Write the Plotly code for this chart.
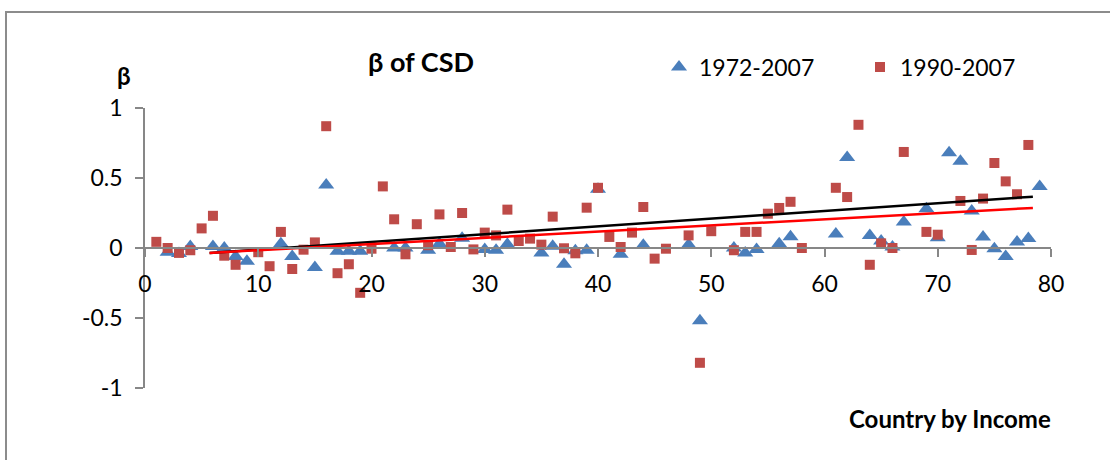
import plotly.graph_objects as go

# 1972-2007 series (triangles)
x_7207 = [2, 3, 4, 6, 7, 8, 9, 12, 13, 15, 16, 17, 18, 19, 22, 23, 25, 26, 28, 30,
          31, 32, 35, 36, 37, 38, 39, 40, 42, 44, 48, 49, 52, 53, 54, 56, 57, 61, 62,
          64, 65, 66, 67, 69, 70, 71, 72, 73, 74, 75, 76, 77, 78, 79]
y_7207 = [-0.03, -0.04, 0.01, 0.01, 0.0, -0.06, -0.095, 0.03, -0.06, -0.14, 0.45, -0.024,
          -0.024, -0.024, 0.0, 0.0, -0.016, 0.03, 0.07, -0.01, -0.016, 0.026, -0.035,
          0.012, -0.116, -0.02, -0.016, 0.42, -0.045, 0.02, 0.024, -0.52, 0.0, -0.035,
          -0.01, 0.03, 0.08, 0.1, 0.646, 0.09, 0.05, 0.007, 0.186, 0.28, 0.074, 0.68,
          0.62, 0.264, 0.079, -0.005, -0.06, 0.043, 0.067, 0.44]

# 1990-2007 series (squares)
x_9007 = [1, 2, 3, 4, 5, 6, 7, 8, 10, 11, 12, 13, 14, 15, 16, 17, 18, 19, 20, 21,
          22, 23, 24, 25, 26, 27, 28, 29, 30, 31, 32, 33, 34, 35, 36, 37, 38, 39, 40,
          41, 42, 43, 44, 45, 46, 48, 49, 50, 52, 53, 54, 55, 56, 57, 58, 61, 62, 63,
          64, 65, 66, 67, 69, 70, 72, 73, 74, 75, 76, 77, 78]
y_9007 = [0.044, 0.0, -0.035, -0.016, 0.14, 0.23, -0.055, -0.12, -0.03, -0.13, 0.115,
          -0.15, -0.012, 0.04, 0.87, -0.18, -0.116, -0.32, -0.005, 0.44, 0.205, -0.045,
          0.17, 0.02, 0.24, 0.007, 0.25, -0.01, 0.11, 0.09, 0.274, 0.05, 0.067, 0.024,
          0.224, -0.002, -0.038, 0.288, 0.43, 0.079, 0.007, 0.11, 0.293, -0.076, -0.005,
          0.09, -0.82, 0.12, -0.016, 0.115, 0.115, 0.245, 0.286, 0.33, 0.0, 0.43, 0.364,
          0.88, -0.12, 0.033, 0.0, 0.686, 0.115, 0.095, 0.336, -0.014, 0.353, 0.607,
          0.476, 0.384, 0.736]

# linear trendlines: [slope, intercept], drawn over trend_x
trend_x = [5.7, 78.4]
trend_7207 = [0.00554, -0.0676]
trend_9007 = [0.00442, -0.0602]

x_ticks = [0, 10, 20, 30, 40, 50, 60, 70, 80]
y_ticks = [-1, -0.5, 0, 0.5, 1]

FONT = "Lato"
BLUE = "#4A7EBB"
RED = "#BE4B48"

fig = go.Figure()
fig.add_trace(go.Scatter(
    x=x_7207, y=y_7207, mode="markers", name="1972-2007",
    marker=dict(symbol="triangle-up", size=14, color=BLUE, line=dict(width=0)),
))
fig.add_trace(go.Scatter(
    x=x_9007, y=y_9007, mode="markers", name="1990-2007",
    marker=dict(symbol="square", size=10, color=RED, line=dict(width=0)),
))
fig.add_trace(go.Scatter(
    x=trend_x, y=[trend_7207[0] * v + trend_7207[1] for v in trend_x],
    mode="lines", line=dict(color="black", width=2.5), showlegend=False, hoverinfo="skip",
))
fig.add_trace(go.Scatter(
    x=trend_x, y=[trend_9007[0] * v + trend_9007[1] for v in trend_x],
    mode="lines", line=dict(color="#FF0000", width=2.5), showlegend=False, hoverinfo="skip",
))

fig.update_layout(
    width=1110, height=460,
    margin=dict(l=145, r=59, t=108, b=72),
    paper_bgcolor="white", plot_bgcolor="white",
    font=dict(family=FONT, size=22, color="black"),
    showlegend=True,
    legend=dict(
        orientation="h", x=(659 - 145) / 906, y=1.146, xanchor="left", yanchor="middle",
        entrywidth=156, entrywidthmode="pixels",
        font=dict(family=FONT, size=23, color="black"),
        bgcolor="rgba(0,0,0,0)", itemsizing="trace",
    ),
    xaxis=dict(
        range=[0, 80], tickvals=x_ticks, ticktext=[str(v) for v in x_ticks],
        showgrid=False, zeroline=False,
        showline=True, linecolor="#878787", linewidth=1.5,
        ticks="outside", ticklen=8, tickcolor="#878787", tickwidth=1.5,
        anchor="free", position=0.5, ticklabelstandoff=8,
        tickfont=dict(family=FONT, size=23, color="black"),
    ),
    yaxis=dict(
        range=[-1, 1], tickvals=y_ticks, ticktext=["-1", "-0.5", "0", "0.5", "1"],
        showgrid=False, zeroline=False,
        showline=True, linecolor="#878787", linewidth=1.5,
        ticks="outside", ticklen=8, tickcolor="#878787", tickwidth=1.5,
        ticklabelstandoff=8,
        tickfont=dict(family=FONT, size=23, color="black"),
    ),
    annotations=[
        dict(text="<b>β of CSD</b>", xref="paper", yref="paper", x=(421 - 145) / 906,
             y=(388 - 62) / 280, xanchor="center", yanchor="middle", showarrow=False,
             font=dict(family=FONT, size=27, color="black")),
        dict(text="<b>β</b>", xref="paper", yref="paper", x=(124 - 145) / 906,
             y=(388 - 75) / 280, xanchor="center", yanchor="middle", showarrow=False,
             font=dict(family=FONT, size=24, color="black")),
        dict(text="<b>Country by Income</b>", xref="paper", yref="paper",
             x=(1053 - 145) / 906, y=(388 - 418) / 280, xanchor="right",
             yanchor="middle", showarrow=False,
             font=dict(family=FONT, size=24, color="black")),
    ],
    shapes=[
        dict(type="rect", xref="paper", yref="paper",
             x0=(6 - 145) / 906, x1=(1120 - 145) / 906,
             y0=(388 - 480) / 280, y1=(388 - 12) / 280,
             line=dict(color="#8C8C8C", width=2), fillcolor="rgba(0,0,0,0)", layer="below"),
    ],
)

fig.write_html("out.html")
